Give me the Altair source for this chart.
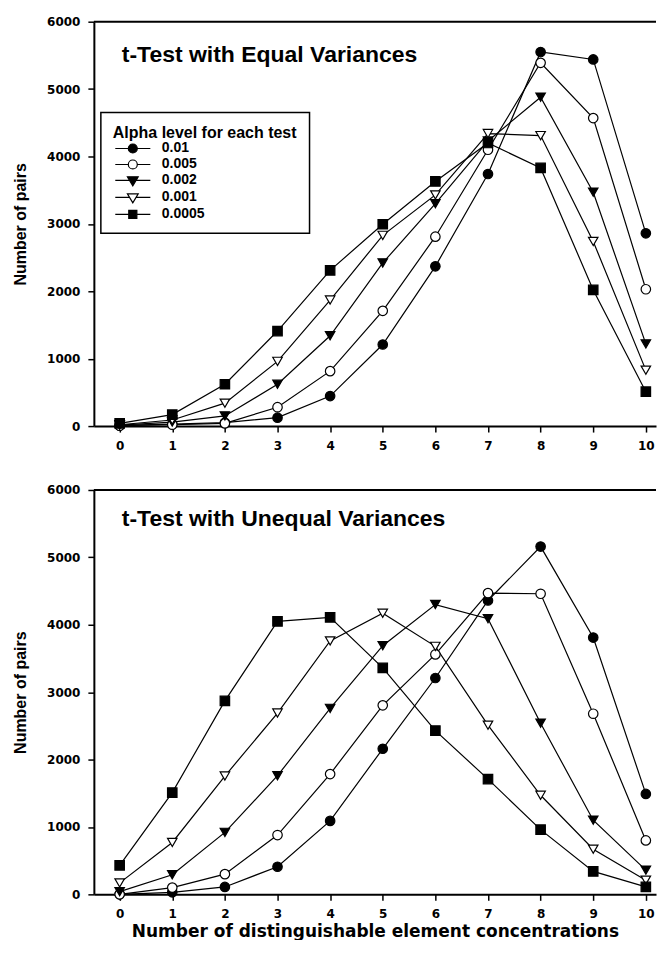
import altair as alt
import pandas as pd

# ---------------- data ----------------
x_vals = [0, 1, 2, 3, 4, 5, 6, 7, 8, 9, 10]
alphas = ["0.01", "0.005", "0.002", "0.001", "0.0005"]
panel_titles = ["t-Test with Equal Variances", "t-Test with Unequal Variances"]

# top panel: t-Test with equal variances
equal_001 = [10, 30, 50, 125, 445, 1210, 2370, 3740, 5550, 5440, 2860]
equal_0005 = [5, 20, 40, 280, 815, 1710, 2810, 4100, 5390, 4570, 2030]
equal_0002 = [15, 60, 150, 620, 1340, 2420, 3300, 4230, 4880, 3470, 1220]
equal_0001 = [20, 90, 340, 960, 1870, 2830, 3430, 4340, 4310, 2740, 830]
equal_00005 = [40, 170, 620, 1410, 2310, 2995, 3630, 4200, 3830, 2020, 510]

# bottom panel: t-Test with unequal variances
unequal_001 = [0, 30, 110, 410, 1090, 2160, 3210, 4360, 5160, 3810, 1490]
unequal_0005 = [0, 100, 300, 880, 1785, 2805, 3560, 4470, 4460, 2680, 800]
unequal_0002 = [40, 290, 920, 1760, 2760, 3690, 4300, 4090, 2540, 1100, 360]
unequal_0001 = [170, 770, 1755, 2690, 3760, 4170, 3680, 2510, 1470, 670, 210]
unequal_00005 = [430, 1510, 2870, 4050, 4110, 3360, 2430, 1710, 960, 340, 110]

y_ticks = [0, 1000, 2000, 3000, 4000, 5000, 6000]

equal_series = [equal_001, equal_0005, equal_0002, equal_0001, equal_00005]
unequal_series = [unequal_001, unequal_0005, unequal_0002, unequal_0001, unequal_00005]


def long_frame(series_list):
    rows = []
    for a, vals in zip(alphas, series_list):
        for xv, v in zip(x_vals, vals):
            rows.append({"x": xv, "v": v, "alpha": a})
    return pd.DataFrame(rows)


df_equal = long_frame(equal_series)
df_unequal = long_frame(unequal_series)

# ---------------- styling ----------------
shapes = ["circle", "circle", "triangle-down", "triangle-down", "square"]
fills = ["black", "white", "black", "white", "black"]
strokes = ["black", "black", "black", "black", "black"]

PW, PH = 563, 405

# legend symbols: marker with a short line through it
circle_p = "M-3.9,0H-1M1,0H3.9M-1,0A1,1,0,1,1,1,0A1,1,0,1,1,-1,0Z"
tri_p = "M-3.9,0H-0.72M0.72,0H3.9M-1.2,-0.8L1.2,-0.8L0,1.2Z"
square_p = "M-3.9,0H-0.9M0.9,0H3.9M-0.9,-0.9H0.9V0.9H-0.9Z"
legend_shapes = [circle_p, circle_p, tri_p, tri_p, square_p]

legend = alt.Legend(
    title="Alpha level for each test",
    orient="none",
    legendX=7,
    legendY=91,
    padding=12,
    strokeColor="black",
    fillColor="white",
    titleFont="Liberation Sans",
    titleFontSize=16,
    titleFontWeight="bold",
    titleColor="black",
    titleLimit=400,
    titlePadding=1,
    labelFont="Liberation Sans",
    labelFontSize=14,
    labelFontWeight="bold",
    labelColor="black",
    labelOffset=22,
    symbolOffset=13,
    symbolSize=81,
    symbolStrokeWidth=1.2,
    symbolStrokeColor="black",
    rowPadding=2,
)


def panel(df, title_text, title_y, show_legend, show_xtitle):
    x_enc = alt.X(
        "x:Q",
        scale=alt.Scale(domain=[-0.49, 10.193], nice=False, zero=False),
        axis=alt.Axis(
            values=x_vals,
            format="d",
            title="Number of distinguishable element concentrations" if show_xtitle else None,
            titleFont="DejaVu Sans",
            titleFontSize=17,
            titleFontWeight="bold",
            titleColor="black",
            titlePadding=4,
        ),
    )
    y_enc = alt.Y(
        "v:Q",
        scale=alt.Scale(domain=[0, 6000], nice=False),
        axis=alt.Axis(
            values=y_ticks,
            format="d",
            title="Number of pairs",
            titleFont="Liberation Sans",
            titleFontSize=16,
            titleFontWeight="bold",
            titleColor="black",
            titlePadding=18,
        ),
    )
    base = alt.Chart(df)
    lines = base.mark_line(color="black", strokeWidth=1.2).encode(
        x=x_enc, y=y_enc, detail="alpha:N"
    )
    points = base.mark_point(
        filled=True, stroke="black", strokeWidth=1.2, size=90, opacity=1
    ).encode(
        x=x_enc,
        y=y_enc,
        shape=alt.Shape("alpha:N", scale=alt.Scale(domain=alphas, range=shapes), legend=None),
        fill=alt.Fill("alpha:N", scale=alt.Scale(domain=alphas, range=fills), legend=None),
    )
    top_rule = alt.Chart(pd.DataFrame({"v": [y_ticks[-1]]})).mark_rule(
        color="black", strokeWidth=2
    ).encode(y="v:Q", x=alt.value(0), x2=alt.value(PW))
    title = alt.Chart(pd.DataFrame({"t": [title_text]})).mark_text(
        align="left",
        baseline="alphabetic",
        font="Liberation Sans",
        fontSize=23,
        fontWeight="bold",
        color="black",
    ).encode(x=alt.value(28), y=alt.value(title_y), text="t:N")
    layers = [lines, points, top_rule, title]
    if show_legend:
        legend_layer = base.transform_filter("datum.x < -100").mark_point(
            filled=True, strokeWidth=1.2, size=81, opacity=1
        ).encode(
            x=x_enc,
            y=y_enc,
            shape=alt.Shape("alpha:N", scale=alt.Scale(domain=alphas, range=legend_shapes), legend=legend),
            fill=alt.Fill("alpha:N", scale=alt.Scale(domain=alphas, range=fills), legend=legend),
            stroke=alt.Stroke("alpha:N", scale=alt.Scale(domain=alphas, range=strokes), legend=legend),
        )
        layers.append(legend_layer)
    return (
        alt.layer(*layers)
        .resolve_scale(shape="independent", fill="independent", stroke="independent")
        .resolve_legend(shape="independent", fill="independent", stroke="independent")
        .properties(width=PW, height=PH)
    )


top = panel(df_equal, panel_titles[0], 40, True, False)
bottom = panel(df_unequal, panel_titles[1], 36, False, True)

chart = (
    alt.vconcat(top, bottom, spacing=64, bounds="flush")
    .resolve_scale(shape="independent", fill="independent", stroke="independent")
    .resolve_legend(shape="independent", fill="independent", stroke="independent")
    .properties(padding={"left": 4, "top": 7, "right": 0, "bottom": 0})
    .configure_view(stroke=None)
    .configure_axis(
        grid=False,
        domainColor="black",
        domainWidth=2,
        tickColor="black",
        tickWidth=1.5,
        tickSize=6,
        labelFont="DejaVu Sans",
        labelFontSize=12,
        labelFontWeight="bold",
        labelColor="black",
        labelPadding=8,
    )
    .configure_legend(strokeWidth=1.5)
)

chart.save("out.html", embed_options={"renderer": "svg", "actions": False})
